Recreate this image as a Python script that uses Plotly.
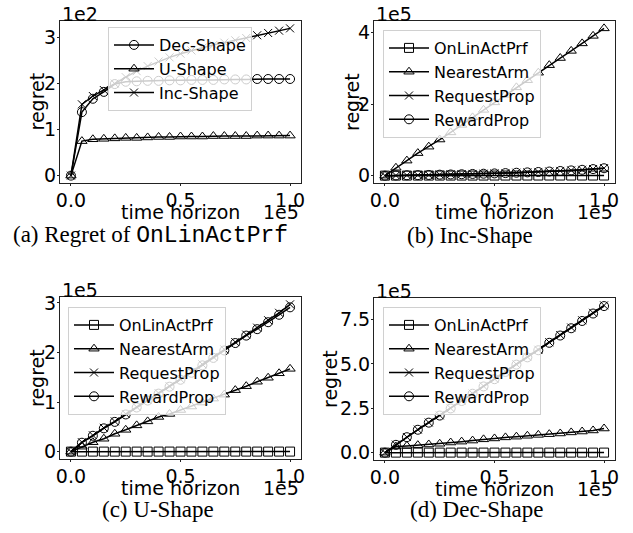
import plotly.graph_objects as go

# ---------------- data ----------------
# time horizon in units of 1e5
time_horizon = [0.0, 0.05, 0.1, 0.15, 0.2, 0.25, 0.3, 0.35, 0.4, 0.45, 0.5,
                0.55, 0.6, 0.65, 0.7, 0.75, 0.8, 0.85, 0.9, 0.95, 1.0]

# (a) Regret of OnLinActPrf  (units of 1e2)
a_dec = [0, 1.38, 1.67, 1.82, 1.99, 2.04, 2.05, 2.06, 2.06, 2.07, 2.07,
         2.08, 2.08, 2.08, 2.09, 2.09, 2.09, 2.10, 2.10, 2.10, 2.10]
a_u = [0, 0.75, 0.79, 0.80, 0.81, 0.82, 0.82, 0.83, 0.84, 0.84, 0.85,
       0.85, 0.85, 0.86, 0.86, 0.86, 0.86, 0.87, 0.87, 0.87, 0.87]
a_inc = [0, 1.55, 1.73, 1.86, 2.00, 2.14, 2.27, 2.38, 2.48, 2.57, 2.65,
         2.72, 2.78, 2.84, 2.89, 2.94, 2.99, 3.05, 3.10, 3.15, 3.20]

# (b) Inc-Shape  (units of 1e5)
b_onlin = [0, 0.00155, 0.00173, 0.00186, 0.00200, 0.00214, 0.00227, 0.00238, 0.00248, 0.00257, 0.00265,
           0.00272, 0.00278, 0.00284, 0.00289, 0.00294, 0.00299, 0.00305, 0.00310, 0.00315, 0.00320]
b_nearest = [0, 0.22, 0.42, 0.63, 0.81, 1.01, 1.21, 1.42, 1.63, 1.84, 2.05,
             2.26, 2.47, 2.67, 2.88, 3.09, 3.29, 3.49, 3.70, 3.91, 4.12]
b_request = [0, 0.005, 0.010, 0.015, 0.020, 0.028, 0.034, 0.040, 0.048, 0.055, 0.063,
             0.072, 0.082, 0.092, 0.103, 0.117, 0.132, 0.148, 0.165, 0.185, 0.210]
b_reward = [0, 0.005, 0.010, 0.014, 0.019, 0.027, 0.033, 0.039, 0.047, 0.054, 0.062,
            0.071, 0.081, 0.091, 0.102, 0.115, 0.130, 0.146, 0.163, 0.183, 0.207]

# (c) U-Shape  (units of 1e5)
c_onlin = [0, 0.00075, 0.00079, 0.00080, 0.00081, 0.00082, 0.00082, 0.00083, 0.00084, 0.00084, 0.00085,
           0.00085, 0.00085, 0.00086, 0.00086, 0.00086, 0.00086, 0.00087, 0.00087, 0.00087, 0.00087]
c_nearest = [0, 0.10, 0.19, 0.26, 0.36, 0.44, 0.53, 0.61, 0.70, 0.76, 0.84,
             0.91, 0.99, 1.07, 1.15, 1.24, 1.32, 1.41, 1.49, 1.58, 1.67]
c_request = [0, 0.19, 0.33, 0.48, 0.61, 0.76, 0.90, 1.04, 1.18, 1.32, 1.46,
             1.61, 1.76, 1.91, 2.06, 2.21, 2.36, 2.50, 2.65, 2.80, 2.97]
c_reward = [0, 0.18, 0.32, 0.47, 0.60, 0.75, 0.89, 1.03, 1.17, 1.31, 1.45,
            1.59, 1.74, 1.89, 2.04, 2.19, 2.34, 2.47, 2.61, 2.76, 2.91]

# (d) Dec-Shape  (units of 1e5)
d_onlin = [0, 0.00138, 0.00167, 0.00182, 0.00199, 0.00204, 0.00205, 0.00206, 0.00206, 0.00207, 0.00207,
           0.00208, 0.00208, 0.00208, 0.00209, 0.00209, 0.00209, 0.00210, 0.00210, 0.00210, 0.00210]
d_nearest = [0, 0.34, 0.38, 0.42, 0.46, 0.50, 0.57, 0.62, 0.68, 0.75, 0.80,
             0.86, 0.90, 0.95, 1.00, 1.04, 1.08, 1.14, 1.19, 1.25, 1.36]
d_request = [0, 0.45, 0.88, 1.30, 1.70, 2.10, 2.50, 2.92, 3.33, 3.75, 4.16,
             4.57, 4.98, 5.40, 5.80, 6.22, 6.63, 7.05, 7.46, 7.88, 8.30]
d_reward = [0, 0.44, 0.87, 1.29, 1.69, 2.09, 2.49, 2.91, 3.32, 3.73, 4.14,
            4.55, 4.96, 5.37, 5.77, 6.19, 6.60, 7.01, 7.42, 7.84, 8.26]

x_tickvals = [0.0, 0.5, 1.0]
x_ticktext = ["0.0", "0.5", "1.0"]
a_yticks = [0, 1, 2, 3]
b_yticks = [0, 2, 4]
c_yticks = [0, 1, 2, 3]
d_yticks = [0, 2.5, 5.0, 7.5]
d_yticktext = ["0.0", "2.5", "5.0", "7.5"]

captions = ["(a) Regret of <span style='font-family:Liberation Mono'>OnLinActPrf</span>",
            "(b) Inc-Shape", "(c) U-Shape", "(d) Dec-Shape"]
x_title = "time horizon"
y_title = "regret"
x_offsets = ["1e5", "1e5", "1e5", "1e5"]
y_offsets = ["1e2", "1e5", "1e5", "1e5"]

# ---------------- layout helpers ----------------
W, H = 633, 533
FONT = "DejaVu Sans"
panels = [  # (x0, x1, y_top, y_bottom) in pixels
    (60, 301, 21, 183),
    (374, 615, 21, 183),
    (60, 301, 297, 459),
    (374, 615, 298, 460),
]
legend_pos = [(108, 27), (383, 30), (68, 307), (383, 307)]
caption_pos = [(150, 235), (470, 235), (158, 509), (476, 509)]
ytitle_x = [36.5, 352, 37, 330]


def px(x):
    return x / W


def py(y):
    return 1 - y / H


def mpl_range(*series):
    lo = min(min(s) for s in series)
    hi = max(max(s) for s in series)
    pad = 0.05 * (hi - lo)
    return [lo - pad, hi + pad]


fig = go.Figure()

sym = {"circle": "circle-open", "tri": "triangle-up-open",
       "sq": "square-open", "x": "x-thin-open"}


def add(idx, name, ys, marker):
    sfx = "" if idx == 0 else str(idx + 1)
    fig.add_trace(go.Scatter(
        x=time_horizon, y=ys, name=name, mode="lines+markers",
        line=dict(color="black", width=1.5),
        marker=dict(symbol=sym[marker], size=9 if marker != "x" else 8,
                    color="black", line=dict(color="black", width=1)),
        xaxis="x" + sfx, yaxis="y" + sfx,
        legend="legend" + sfx,
    ))


add(0, "Dec-Shape", a_dec, "circle")
add(0, "U-Shape", a_u, "tri")
add(0, "Inc-Shape", a_inc, "x")

for i, (on, ne, rq, rw) in enumerate([(b_onlin, b_nearest, b_request, b_reward),
                                       (c_onlin, c_nearest, c_request, c_reward),
                                       (d_onlin, d_nearest, d_request, d_reward)], start=1):
    add(i, "OnLinActPrf", on, "sq")
    add(i, "NearestArm", ne, "tri")
    add(i, "RequestProp", rq, "x")
    add(i, "RewardProp", rw, "circle")

yranges = [mpl_range(a_dec, a_u, a_inc),
           mpl_range(b_onlin, b_nearest, b_request, b_reward),
           mpl_range(c_onlin, c_nearest, c_request, c_reward),
           mpl_range(d_onlin, d_nearest, d_request, d_reward)]
ytickvals = [a_yticks, b_yticks, c_yticks, d_yticks]
yticktexts = [[str(v) for v in a_yticks], [str(v) for v in b_yticks],
              [str(v) for v in c_yticks], d_yticktext]

layout = dict(
    width=W, height=H,
    margin=dict(l=0, r=0, t=0, b=0),
    paper_bgcolor="white", plot_bgcolor="white",
    font=dict(family=FONT, size=19, color="black"),
    showlegend=True,
)

annotations = []
for i, (x0, x1, y0, y1) in enumerate(panels):
    sfx = "" if i == 0 else str(i + 1)
    layout["xaxis" + sfx] = dict(
        domain=[px(x0), px(x1)], anchor="y" + sfx, range=[-0.05, 1.05],
        tickvals=x_tickvals, ticktext=x_ticktext, ticks="outside", ticklen=2,
        tickcolor="#222222", showline=True, mirror=True, linecolor="#222222",
        linewidth=1, showgrid=False, zeroline=False,
        tickfont=dict(family=FONT, size=19), ticklabelstandoff=-2,
        automargin=False,
    )
    layout["yaxis" + sfx] = dict(
        domain=[py(y1), py(y0)], anchor="x" + sfx, range=yranges[i],
        tickvals=ytickvals[i], ticktext=yticktexts[i], ticks="outside", ticklen=2,
        tickcolor="#222222", showline=True, mirror=True, linecolor="#222222",
        linewidth=1, showgrid=False, zeroline=False,
        tickfont=dict(family=FONT, size=19), ticklabelstandoff=-3,
        automargin=False,
    )
    lx, ly = legend_pos[i]
    layout["legend" + sfx] = dict(
        x=px(lx), y=py(ly), xanchor="left", yanchor="top",
        bgcolor="rgba(255,255,255,0.8)", bordercolor="#d0d0d0", borderwidth=1,
        font=dict(family=FONT, size=16, color="black"), tracegroupgap=0,
        itemwidth=40,
    )
    txt = dict(family=FONT, size=19, color="black")
    # axis titles
    annotations.append(dict(text=x_title, xref="paper", yref="paper",
                            x=px((x0 + x1) / 2), y=py(y1 + 29), xanchor="center",
                            yanchor="middle", showarrow=False, font=txt))
    annotations.append(dict(text=y_title, xref="paper", yref="paper",
                            x=px(ytitle_x[i]), y=py((y0 + y1) / 2), xanchor="center",
                            yanchor="middle", textangle=-90, showarrow=False, font=txt))
    # offset texts
    annotations.append(dict(text=y_offsets[i], xref="paper", yref="paper",
                            x=px(x0), y=py(y0), xanchor="left", yanchor="bottom",
                            yshift=-6, showarrow=False, font=txt))
    annotations.append(dict(text=x_offsets[i], xref="paper", yref="paper",
                            x=px(x1), y=py(y1 + 29), xanchor="right", yanchor="middle",
                            showarrow=False, font=txt))
    cx, cy = caption_pos[i]
    annotations.append(dict(text=captions[i], xref="paper", yref="paper",
                            x=px(cx), y=py(cy), xanchor="center", yanchor="middle",
                            showarrow=False,
                            font=dict(family="Liberation Serif", size=23, color="black")))

layout["annotations"] = annotations
fig.update_layout(**layout)
fig.write_html("out.html", config={"displayModeBar": False},
               post_script="document.body.style.margin='0px';")
